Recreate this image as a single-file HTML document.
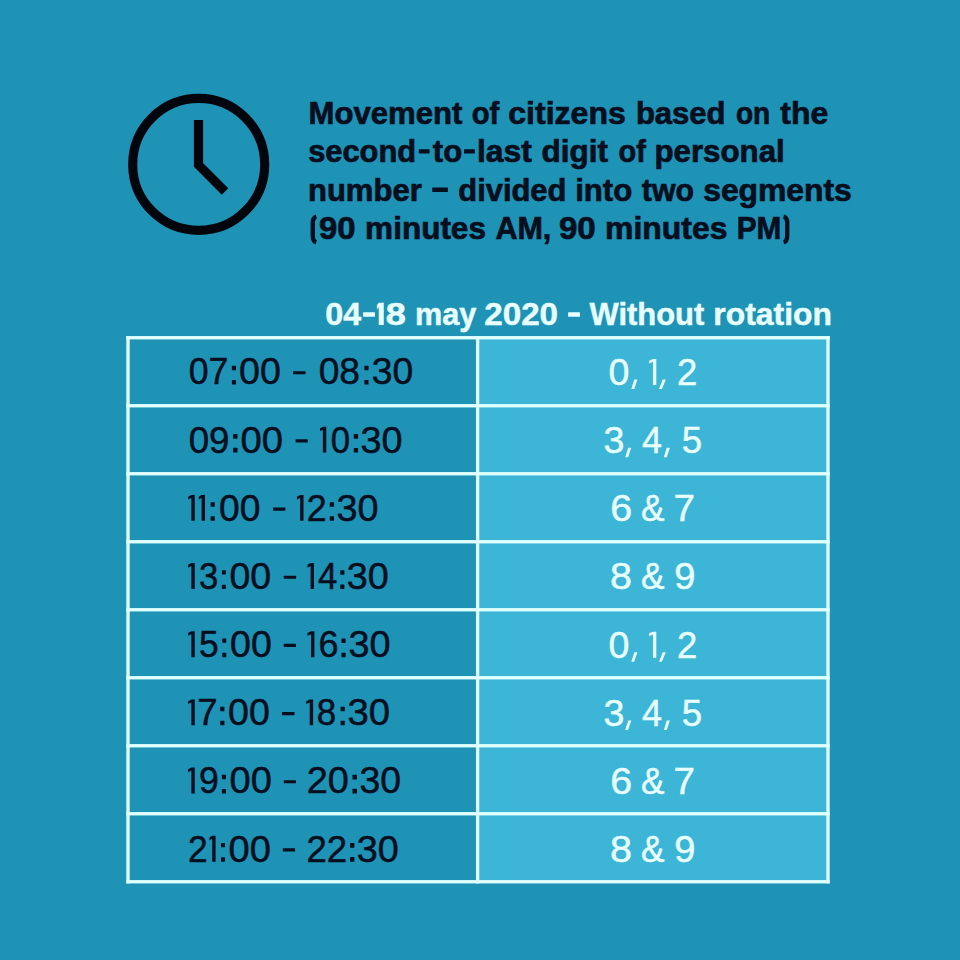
<!DOCTYPE html>
<html><head><meta charset="utf-8"><title>Schedule</title>
<style>
html,body{margin:0;padding:0;width:960px;height:960px;overflow:hidden;background:#1e93b5;}
svg{position:absolute;left:0;top:0;display:block}
text{font-family:"Liberation Sans",sans-serif;}
.t{font-weight:bold;font-size:30.5px;fill:#070e1e;stroke:#070e1e;stroke-width:0.7px}
.h{font-weight:bold;font-size:30.5px;fill:#e8ffff;stroke:#e8ffff;stroke-width:0.45px}
.l{font-size:36.5px;fill:#070e1e;stroke:#070e1e;stroke-width:0.5px}
.r{font-size:36.5px;fill:#e8ffff;stroke:#e8ffff;stroke-width:0.45px}
</style></head>
<body>
<svg width="960" height="960" viewBox="0 0 960 960">
<rect x="0" y="0" width="960" height="960" fill="#1e93b5"/>
<!-- clock -->
<circle cx="198.7" cy="164.4" r="66" fill="none" stroke="#02050c" stroke-width="9.1"/>
<polyline points="198.5,120 198.5,164.9 225,191.4" fill="none" stroke="#02050c" stroke-width="9.2" stroke-linejoin="miter"/>
<!-- table -->
<rect x="478" y="338" width="350" height="544" fill="#3db5d6"/>
<g fill="#e0ffff">
<rect x="126.3" y="336.07" width="703.4" height="3.35"/>
<rect x="126.3" y="404.07" width="703.4" height="3.35"/>
<rect x="126.3" y="472.07" width="703.4" height="3.35"/>
<rect x="126.3" y="540.08" width="703.4" height="3.35"/>
<rect x="126.3" y="608.08" width="703.4" height="3.35"/>
<rect x="126.3" y="676.08" width="703.4" height="3.35"/>
<rect x="126.3" y="744.08" width="703.4" height="3.35"/>
<rect x="126.3" y="812.08" width="703.4" height="3.35"/>
<rect x="126.3" y="880.08" width="703.4" height="3.35"/>
<rect x="126.33" y="336.07" width="3.35" height="547.35"/>
<rect x="475.93" y="336.07" width="3.35" height="547.35"/>
<rect x="826.33" y="336.07" width="3.35" height="547.35"/>
</g>
<g fill="#070e1e">
<rect x="418.75" y="149.2" width="10.85" height="4.4" rx="0.6"/>
<rect x="464" y="149.2" width="10.85" height="4.4" rx="0.6"/>
<rect x="432.25" y="187.6" width="15.65" height="4.4" rx="0.6"/>
</g>
<g fill="#070e1e">
<rect x="231.9" y="380.02" width="4.1" height="4.43" rx="0.5"/><rect x="231.9" y="365.85" width="4.1" height="4.43" rx="0.5"/>
<rect x="293.1" y="371.15" width="12.5" height="3.2" rx="0.6"/>
<rect x="364.4" y="380.02" width="4.1" height="4.43" rx="0.5"/><rect x="364.4" y="365.85" width="4.1" height="4.43" rx="0.5"/>
<rect x="233.1" y="447.87" width="4.4" height="4.75" rx="0.5"/><rect x="233.1" y="434.02" width="4.4" height="4.75" rx="0.5"/>
<rect x="295.6" y="439.32" width="12.15" height="3.2" rx="0.6"/>
<path d="M322.85 426.72H326.25V452.62H322.85V429.71L320 431.36V428.47Z"/>
<rect x="353.75" y="447.92" width="4.35" height="4.7" rx="0.5"/><rect x="353.75" y="434.02" width="4.35" height="4.7" rx="0.5"/>
<path d="M191.35 494.89H194.75V520.79H191.35V497.88L188.1 499.53V496.64Z"/>
<path d="M201.6 494.89H205V520.79H201.6V497.88L198.75 499.53V496.64Z"/>
<rect x="210.6" y="516.31" width="4.15" height="4.48" rx="0.5"/><rect x="210.6" y="502.19" width="4.15" height="4.48" rx="0.5"/>
<rect x="273" y="507.49" width="12.4" height="3.2" rx="0.6"/>
<path d="M300.1 494.89H303.5V520.79H300.1V497.88L296.9 499.53V496.64Z"/>
<rect x="329.75" y="516.2" width="4.25" height="4.59" rx="0.5"/><rect x="329.75" y="502.19" width="4.25" height="4.59" rx="0.5"/>
<path d="M191.35 563.06H194.75V588.96H191.35V566.05L188.1 567.7V564.81Z"/>
<rect x="221.9" y="584.75" width="3.9" height="4.21" rx="0.5"/><rect x="221.9" y="570.36" width="3.9" height="4.21" rx="0.5"/>
<rect x="283.75" y="575.66" width="12.35" height="3.2" rx="0.6"/>
<path d="M310.6 563.06H314V588.96H310.6V566.05L307.5 567.7V564.81Z"/>
<rect x="340.25" y="584.48" width="4.15" height="4.48" rx="0.5"/><rect x="340.25" y="570.36" width="4.15" height="4.48" rx="0.5"/>
<path d="M191.35 631.23H194.75V657.13H191.35V634.22L188.1 635.87V632.98Z"/>
<rect x="222.25" y="652.81" width="4" height="4.32" rx="0.5"/><rect x="222.25" y="638.53" width="4" height="4.32" rx="0.5"/>
<rect x="283.75" y="643.83" width="12.25" height="3.2" rx="0.6"/>
<path d="M311 631.23H314.4V657.13H311V634.22L307.5 635.87V632.98Z"/>
<rect x="341.5" y="652.7" width="4.1" height="4.43" rx="0.5"/><rect x="341.5" y="638.53" width="4.1" height="4.43" rx="0.5"/>
<path d="M191.35 699.4H194.75V725.3H191.35V702.39L188.1 704.04V701.15Z"/>
<rect x="220.25" y="720.82" width="4.15" height="4.48" rx="0.5"/><rect x="220.25" y="706.7" width="4.15" height="4.48" rx="0.5"/>
<rect x="281.9" y="712" width="12.7" height="3.2" rx="0.6"/>
<path d="M309.7 699.4H313.1V725.3H309.7V702.39L306.25 704.04V701.15Z"/>
<rect x="340.6" y="720.82" width="4.15" height="4.48" rx="0.5"/><rect x="340.6" y="706.7" width="4.15" height="4.48" rx="0.5"/>
<path d="M191.35 767.57H194.75V793.47H191.35V770.56L188.1 772.21V769.32Z"/>
<rect x="221.9" y="789.04" width="4.1" height="4.43" rx="0.5"/><rect x="221.9" y="774.87" width="4.1" height="4.43" rx="0.5"/>
<rect x="283.75" y="780.17" width="12.25" height="3.2" rx="0.6"/>
<rect x="352.5" y="788.72" width="4.4" height="4.75" rx="0.5"/><rect x="352.5" y="774.87" width="4.4" height="4.75" rx="0.5"/>
<path d="M212.2 835.74H215.6V861.64H212.2V838.73L209.4 840.38V837.49Z"/>
<rect x="221" y="857.32" width="4" height="4.32" rx="0.5"/><rect x="221" y="843.04" width="4" height="4.32" rx="0.5"/>
<rect x="282.75" y="848.34" width="12.35" height="3.2" rx="0.6"/>
<rect x="350" y="856.89" width="4.4" height="4.75" rx="0.5"/><rect x="350" y="843.04" width="4.4" height="4.75" rx="0.5"/>
</g>
<g fill="#e8ffff">
<rect x="363.1" y="312.2" width="11.9" height="4.6" rx="0.6"/>
<rect x="568.1" y="312.2" width="11.9" height="4.6" rx="0.6"/>
<path d="M378.75 302.7H383.75V325.1H378.75V307.09L376.9 309.52V305.28Z"/>
</g>
<g fill="#e8ffff">
<path d="M634.3 379.55H637.4L634.2 389.05H631.3Z"/>
<path d="M653 358.95H656.3V384.95H653V361.85L649.2 363.45V360.65Z"/>
<path d="M662.7 379.55H665.8L661.9 389.05H659Z"/>
<path d="M628.2 447.72H631.3L628.1 457.22H625.2Z"/>
<path d="M666.8 447.72H669.9L666.7 457.22H663.8Z"/>
<path d="M634.3 652.23H637.4L634.2 661.73H631.3Z"/>
<path d="M653 631.63H656.3V657.63H653V634.53L649.2 636.13V633.33Z"/>
<path d="M662.7 652.23H665.8L661.9 661.73H659Z"/>
<path d="M628.2 720.4H631.3L628.1 729.9H625.2Z"/>
<path d="M666.8 720.4H669.9L666.7 729.9H663.8Z"/>
</g>
<path d="M316.3 216.7Q312.8 217.5 312.8 222.9V235.9Q312.8 241.3 316.3 242.1" fill="none" stroke="#070e1e" stroke-width="4.4"/><path d="M783.6 216.7Q787.2 217.5 787.2 222.9V235.9Q787.2 241.3 783.6 242.1" fill="none" stroke="#070e1e" stroke-width="4.4"/><text class="t" x="308.58" y="123.7" textLength="153.81" lengthAdjust="spacingAndGlyphs">Movement</text>
<text class="t" x="471.73" y="123.7" textLength="27.52" lengthAdjust="spacingAndGlyphs">of</text>
<text class="t" x="508.31" y="123.7" textLength="117.48" lengthAdjust="spacingAndGlyphs">citizens</text>
<text class="t" x="635.92" y="123.7" textLength="89.64" lengthAdjust="spacingAndGlyphs">based</text>
<text class="t" x="735.91" y="123.7" textLength="34.33" lengthAdjust="spacingAndGlyphs">on</text>
<text class="t" x="780.26" y="123.7" textLength="47.91" lengthAdjust="spacingAndGlyphs">the</text>
<text class="t" x="308.16" y="162.1" textLength="107.9" lengthAdjust="spacingAndGlyphs">second</text>
<text class="t" x="432.83" y="162.1" textLength="29.32" lengthAdjust="spacingAndGlyphs">to</text>
<text class="t" x="476.92" y="162.1" textLength="54.84" lengthAdjust="spacingAndGlyphs">last</text>
<text class="t" x="541.64" y="162.1" textLength="66.41" lengthAdjust="spacingAndGlyphs">digit</text>
<text class="t" x="618.48" y="162.1" textLength="27.31" lengthAdjust="spacingAndGlyphs">of</text>
<text class="t" x="654.4" y="162.1" textLength="130.33" lengthAdjust="spacingAndGlyphs">personal</text>
<text class="t" x="307.99" y="200.5" textLength="113.72" lengthAdjust="spacingAndGlyphs">number</text>
<text class="t" x="458.29" y="200.5" textLength="108.12" lengthAdjust="spacingAndGlyphs">divided</text>
<text class="t" x="575.16" y="200.5" textLength="57.09" lengthAdjust="spacingAndGlyphs">into</text>
<text class="t" x="641.81" y="200.5" textLength="52.15" lengthAdjust="spacingAndGlyphs">two</text>
<text class="t" x="703.19" y="200.5" textLength="148.6" lengthAdjust="spacingAndGlyphs">segments</text>
<text class="t" x="318.93" y="238.9" textLength="36.58" lengthAdjust="spacingAndGlyphs">90</text>
<text class="t" x="365.11" y="238.9" textLength="120.81" lengthAdjust="spacingAndGlyphs">minutes</text>
<text class="t" x="495.43" y="238.9" textLength="55.94" lengthAdjust="spacingAndGlyphs">AM,</text>
<text class="t" x="558.93" y="238.9" textLength="36.83" lengthAdjust="spacingAndGlyphs">90</text>
<text class="t" x="605.1" y="238.9" textLength="122.32" lengthAdjust="spacingAndGlyphs">minutes</text>
<text class="t" x="736.67" y="238.9" textLength="44.59" lengthAdjust="spacingAndGlyphs">PM</text>
<text class="h" x="325.19" y="325.1" textLength="35.97" lengthAdjust="spacingAndGlyphs">04</text>
<text class="h" x="385.85" y="325.1" textLength="20.07" lengthAdjust="spacingAndGlyphs">8</text>
<text class="h" x="415.04" y="325.1" textLength="61.36" lengthAdjust="spacingAndGlyphs">may</text>
<text class="h" x="484.25" y="325.1" textLength="73.83" lengthAdjust="spacingAndGlyphs">2020</text>
<text class="h" x="589.53" y="325.1" textLength="114.74" lengthAdjust="spacingAndGlyphs">Without</text>
<text class="h" x="713.38" y="325.1" textLength="118.52" lengthAdjust="spacingAndGlyphs">rotation</text>
<text class="l" x="188.79" y="384.45" textLength="39.61" lengthAdjust="spacingAndGlyphs">07</text>
<text class="l" x="239.11" y="384.45" textLength="41.83" lengthAdjust="spacingAndGlyphs">00</text>
<text class="l" x="318.65" y="384.45" textLength="41.42" lengthAdjust="spacingAndGlyphs">08</text>
<text class="l" x="371.7" y="384.45" textLength="41.44" lengthAdjust="spacingAndGlyphs">30</text>
<text class="l" x="188.65" y="452.62" textLength="40.85" lengthAdjust="spacingAndGlyphs">09</text>
<text class="l" x="240.64" y="452.62" textLength="42.5" lengthAdjust="spacingAndGlyphs">00</text>
<text class="l" x="330.79" y="452.62" textLength="19.33" lengthAdjust="spacingAndGlyphs">0</text>
<text class="l" x="360.53" y="452.62" textLength="42.03" lengthAdjust="spacingAndGlyphs">30</text>
<text class="l" x="219.1" y="520.79" textLength="41.41" lengthAdjust="spacingAndGlyphs">00</text>
<text class="l" x="306.86" y="520.79" textLength="19.96" lengthAdjust="spacingAndGlyphs">2</text>
<text class="l" x="336.46" y="520.79" textLength="42.04" lengthAdjust="spacingAndGlyphs">30</text>
<text class="l" x="199.09" y="588.96" textLength="19.27" lengthAdjust="spacingAndGlyphs">3</text>
<text class="l" x="229.51" y="588.96" textLength="41.67" lengthAdjust="spacingAndGlyphs">00</text>
<text class="l" x="317.98" y="588.96" textLength="19.3" lengthAdjust="spacingAndGlyphs">4</text>
<text class="l" x="346.88" y="588.96" textLength="42.01" lengthAdjust="spacingAndGlyphs">30</text>
<text class="l" x="199.03" y="657.13" textLength="19.67" lengthAdjust="spacingAndGlyphs">5</text>
<text class="l" x="230.1" y="657.13" textLength="41.78" lengthAdjust="spacingAndGlyphs">00</text>
<text class="l" x="318.5" y="657.13" textLength="19.99" lengthAdjust="spacingAndGlyphs">6</text>
<text class="l" x="348.45" y="657.13" textLength="42.06" lengthAdjust="spacingAndGlyphs">30</text>
<text class="l" x="197.15" y="725.3" textLength="20.28" lengthAdjust="spacingAndGlyphs">7</text>
<text class="l" x="228.09" y="725.3" textLength="41.75" lengthAdjust="spacingAndGlyphs">00</text>
<text class="l" x="316.83" y="725.3" textLength="19.42" lengthAdjust="spacingAndGlyphs">8</text>
<text class="l" x="347.46" y="725.3" textLength="42.59" lengthAdjust="spacingAndGlyphs">30</text>
<text class="l" x="199.01" y="793.47" textLength="19.86" lengthAdjust="spacingAndGlyphs">9</text>
<text class="l" x="229.51" y="793.47" textLength="42.37" lengthAdjust="spacingAndGlyphs">00</text>
<text class="l" x="306.75" y="793.47" textLength="42.15" lengthAdjust="spacingAndGlyphs">20</text>
<text class="l" x="359.41" y="793.47" textLength="41.56" lengthAdjust="spacingAndGlyphs">30</text>
<text class="l" x="188.01" y="861.64" textLength="19.68" lengthAdjust="spacingAndGlyphs">2</text>
<text class="l" x="228.62" y="861.64" textLength="42.3" lengthAdjust="spacingAndGlyphs">00</text>
<text class="l" x="306.4" y="861.64" textLength="40.73" lengthAdjust="spacingAndGlyphs">22</text>
<text class="l" x="356.88" y="861.64" textLength="42.01" lengthAdjust="spacingAndGlyphs">30</text>
<text class="r" x="608.46" y="384.95" textLength="20.91" lengthAdjust="spacingAndGlyphs">0</text>
<text class="r" x="677.01" y="384.95" textLength="20.28" lengthAdjust="spacingAndGlyphs">2</text>
<text class="r" x="603.51" y="453.12" textLength="20.93" lengthAdjust="spacingAndGlyphs">3</text>
<text class="r" x="642.06" y="453.12" textLength="20.01" lengthAdjust="spacingAndGlyphs">4</text>
<text class="r" x="681.7" y="453.12" textLength="20.4" lengthAdjust="spacingAndGlyphs">5</text>
<text class="r" x="610.35" y="521.29" textLength="21.93" lengthAdjust="spacingAndGlyphs">6</text>
<text class="r" x="640.88" y="521.29" textLength="23.51" lengthAdjust="spacingAndGlyphs">&amp;</text>
<text class="r" x="673.43" y="521.29" textLength="21.5" lengthAdjust="spacingAndGlyphs">7</text>
<text class="r" x="610.14" y="589.46" textLength="21.96" lengthAdjust="spacingAndGlyphs">8</text>
<text class="r" x="640.88" y="589.46" textLength="23.51" lengthAdjust="spacingAndGlyphs">&amp;</text>
<text class="r" x="674.34" y="589.46" textLength="21.19" lengthAdjust="spacingAndGlyphs">9</text>
<text class="r" x="608.46" y="657.63" textLength="20.91" lengthAdjust="spacingAndGlyphs">0</text>
<text class="r" x="677.01" y="657.63" textLength="20.28" lengthAdjust="spacingAndGlyphs">2</text>
<text class="r" x="603.51" y="725.8" textLength="20.93" lengthAdjust="spacingAndGlyphs">3</text>
<text class="r" x="642.06" y="725.8" textLength="20.01" lengthAdjust="spacingAndGlyphs">4</text>
<text class="r" x="681.7" y="725.8" textLength="20.4" lengthAdjust="spacingAndGlyphs">5</text>
<text class="r" x="610.35" y="793.97" textLength="21.93" lengthAdjust="spacingAndGlyphs">6</text>
<text class="r" x="640.88" y="793.97" textLength="23.51" lengthAdjust="spacingAndGlyphs">&amp;</text>
<text class="r" x="673.43" y="793.97" textLength="21.5" lengthAdjust="spacingAndGlyphs">7</text>
<text class="r" x="610.14" y="862.14" textLength="21.96" lengthAdjust="spacingAndGlyphs">8</text>
<text class="r" x="640.88" y="862.14" textLength="23.51" lengthAdjust="spacingAndGlyphs">&amp;</text>
<text class="r" x="674.34" y="862.14" textLength="21.19" lengthAdjust="spacingAndGlyphs">9</text>
</svg>
</body></html>
